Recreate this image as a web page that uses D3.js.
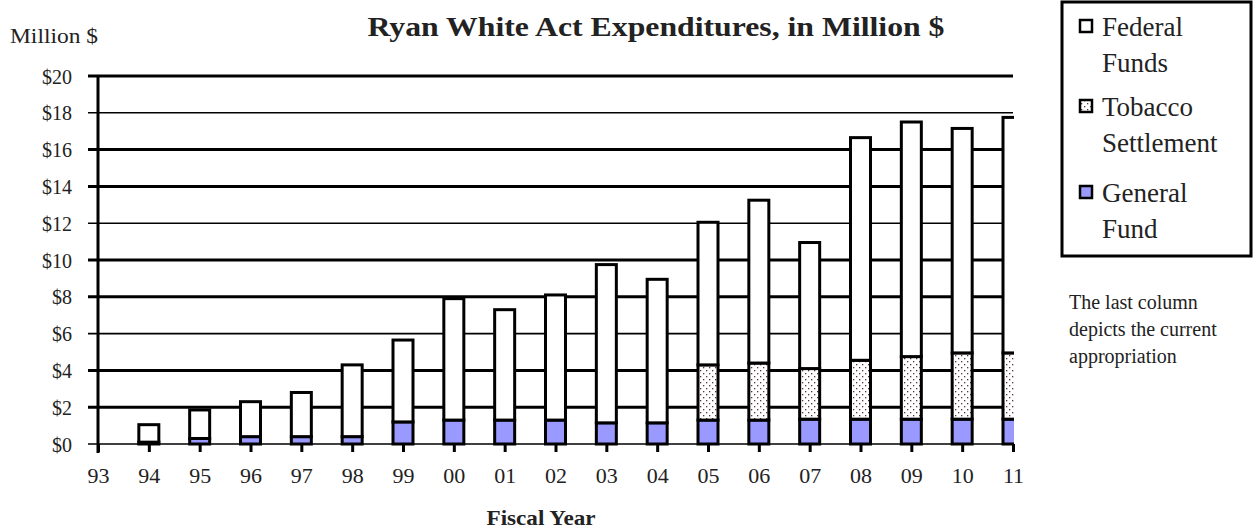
<!DOCTYPE html>
<html>
<head>
<meta charset="utf-8">
<script src="https://cdn.jsdelivr.net/npm/d3@7"></script>
<style>
  body { margin: 0; background: #fff; }
  text { font-family: "Liberation Serif", "DejaVu Serif", serif; fill: #222; }
</style>
</head>
<body>
<svg width="1257" height="529"></svg>
<script>
var years = ['93', '94', '95', '96', '97', '98', '99', '00', '01', '02', '03', '04', '05', '06', '07', '08', '09', '10', '11'];
var generalFund = [0, 0.1, 0.3, 0.4, 0.4, 0.4, 1.2, 1.3, 1.3, 1.3, 1.15, 1.15, 1.3, 1.3, 1.35, 1.35, 1.35, 1.35, 1.35];
var tobacco = [0, 0, 0, 0, 0, 0, 0, 0, 0, 0, 0, 0, 3.0, 3.1, 2.75, 3.2, 3.4, 3.6, 3.6];
var federal = [0, 0.95, 1.55, 1.9, 2.4, 3.9, 4.45, 6.6, 6.0, 6.8, 8.6, 7.8, 7.75, 8.85, 6.85, 12.1, 12.75, 12.2, 12.8];
var yTicks = [0, 2, 4, 6, 8, 10, 12, 14, 16, 18, 20];
var seriesNames = ['General Fund', 'Tobacco Settlement', 'Federal Funds'];

var svg = d3.select('svg');

var plotLeft = 98, plotRight = 1013, plotTop = 76, plotBottom = 444;

var x = d3.scalePoint().domain(years).range([plotLeft, plotRight]);
var y = d3.scaleLinear().domain([0, 20]).range([plotBottom, plotTop]);
var barWidth = 20;

// dotted fill for the tobacco money
var defs = svg.append('defs');
var pat = defs.append('pattern')
  .attr('id', 'dots')
  .attr('patternUnits', 'userSpaceOnUse')
  .attr('width', 6)
  .attr('height', 6);
pat.append('rect').attr('width', 6).attr('height', 6).attr('fill', '#fff');
pat.append('rect').attr('x', 1).attr('y', 1).attr('width', 1.3).attr('height', 1.3).attr('fill', '#553344');
pat.append('rect').attr('x', 4).attr('y', 4).attr('width', 1.3).attr('height', 1.3).attr('fill', '#553344');

defs.append('clipPath').attr('id', 'plotClip')
  .append('rect')
  .attr('x', plotLeft - 5).attr('y', 0)
  .attr('width', plotRight - plotLeft + 6).attr('height', plotBottom + 20);

var fills = { 'General Fund': '#9999ff', 'Tobacco Settlement': 'url(#dots)', 'Federal Funds': '#ffffff' };

// gridlines (every third one looks thinner in the original)
svg.append('g').selectAll('line')
  .data(yTicks)
  .enter().append('line')
  .attr('x1', plotLeft - 10)
  .attr('x2', plotRight)
  .attr('y1', function (d) { return y(d); })
  .attr('y2', function (d) { return y(d); })
  .attr('stroke', '#000')
  .attr('stroke-width', function (d) { return (d % 6 === 0) ? 1.6 : 3; });

// stacked bars
var rows = years.map(function (yr, i) {
  return { year: yr, 'General Fund': generalFund[i], 'Tobacco Settlement': tobacco[i], 'Federal Funds': federal[i] };
});
var stack = d3.stack().keys(seriesNames)(rows);

var barsG = svg.append('g').attr('clip-path', 'url(#plotClip)');
stack.forEach(function (layer) {
  barsG.append('g').selectAll('rect')
    .data(layer.filter(function (d) { return d[1] - d[0] > 0; }))
    .enter().append('rect')
    .attr('x', function (d) { return x(d.data.year) - barWidth / 2; })
    .attr('y', function (d) { return y(d[1]); })
    .attr('width', barWidth)
    .attr('height', function (d) { return y(d[0]) - y(d[1]); })
    .attr('fill', fills[layer.key])
    .attr('stroke', '#000')
    .attr('stroke-width', 3);
});

// y axis
var yAxis = d3.axisLeft(y).tickValues(yTicks).tickFormat(function (d) { return '$' + d; }).tickSize(0).tickPadding(26);
var yg = svg.append('g').attr('transform', 'translate(' + plotLeft + ',0)').call(yAxis);
yg.select('.domain').remove();
yg.selectAll('text').style('font-size', '20px').attr('dy', '0.35em');

svg.append('line')
  .attr('x1', plotLeft).attr('x2', plotLeft)
  .attr('y1', plotTop - 1).attr('y2', plotBottom + 9)
  .attr('stroke', '#000').attr('stroke-width', 3);

// x axis
var xAxis = d3.axisBottom(x).tickSize(8).tickPadding(15);
var xg = svg.append('g').attr('transform', 'translate(0,' + plotBottom + ')').call(xAxis);
xg.select('.domain').remove();
xg.selectAll('line').attr('stroke', '#000').attr('stroke-width', 3);
xg.selectAll('text').style('font-size', '22px');

// titles
svg.append('text')
  .attr('x', 656).attr('y', 36)
  .attr('text-anchor', 'middle')
  .attr('textLength', 577)
  .attr('lengthAdjust', 'spacingAndGlyphs')
  .style('font-size', '27px')
  .style('font-weight', 'bold')
  .text('Ryan White Act Expenditures, in Million $');

svg.append('text')
  .attr('x', 10).attr('y', 43)
  .attr('textLength', 88)
  .attr('lengthAdjust', 'spacingAndGlyphs')
  .style('font-size', '20px')
  .text('Million $');

svg.append('text')
  .attr('x', 541).attr('y', 525)
  .attr('text-anchor', 'middle')
  .attr('textLength', 109)
  .attr('lengthAdjust', 'spacingAndGlyphs')
  .style('font-size', '21px')
  .style('font-weight', 'bold')
  .text('Fiscal Year');

// legend
var lg = svg.append('g');
lg.append('rect')
  .attr('x', 1062).attr('y', 2)
  .attr('width', 189).attr('height', 254)
  .attr('fill', '#fff').attr('stroke', '#000').attr('stroke-width', 3);

var legendItems = [
  { key: 'Federal Funds', lines: ['Federal', 'Funds'], y: 26 },
  { key: 'Tobacco Settlement', lines: ['Tobacco', 'Settlement'], y: 106 },
  { key: 'General Fund', lines: ['General', 'Fund'], y: 192 }
];
legendItems.forEach(function (it) {
  lg.append('rect')
    .attr('x', 1080).attr('y', it.y - 6)
    .attr('width', 12).attr('height', 12)
    .attr('fill', fills[it.key])
    .attr('stroke', '#000').attr('stroke-width', 2.5);
  it.lines.forEach(function (ln, j) {
    lg.append('text')
      .attr('x', 1102).attr('y', it.y + 10 + j * 36)
      .style('font-size', '27px')
      .text(ln);
  });
});

var note = ['The last column', 'depicts the current', 'appropriation'];
svg.append('g').selectAll('text')
  .data(note)
  .enter().append('text')
  .attr('x', 1069)
  .attr('y', function (d, i) { return 309 + i * 27; })
  .style('font-size', '20px')
  .text(function (d) { return d; });
</script>
</body>
</html>
